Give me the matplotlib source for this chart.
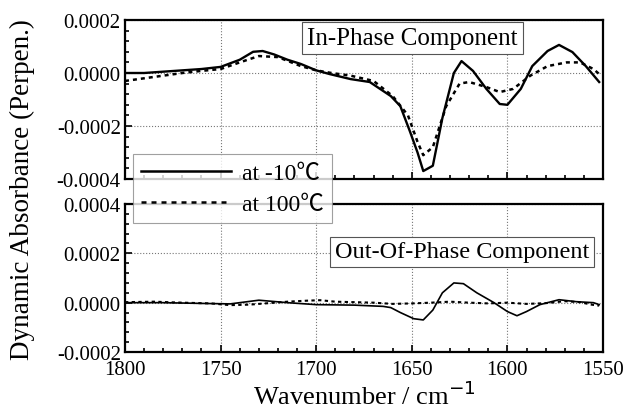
import matplotlib
matplotlib.use("Agg")
import matplotlib.pyplot as plt
from matplotlib.ticker import MultipleLocator, FormatStrFormatter
from matplotlib.lines import Line2D

plt.rcParams['font.family'] = ['Liberation Serif', 'Noto Sans CJK JP', 'DejaVu Sans']

# In-phase, -10 C (solid)
in_x_cold = [1800, 1790, 1780, 1770, 1760, 1750, 1740, 1733, 1728, 1722, 1715, 1708, 1700,
             1693, 1682, 1672, 1661, 1656, 1651, 1647, 1644, 1639, 1634, 1628, 1624, 1618,
             1611, 1604, 1600, 1593, 1587, 1579, 1573, 1566, 1559, 1552]
in_y_cold = [0.0, 0.0, 0.000005, 0.00001, 0.000015, 0.000023, 0.00005, 0.00008, 0.000083,
             0.00007, 0.00005, 0.000034, 0.00001, -0.000004, -0.000023, -0.000034,
             -0.000087, -0.000125, -0.00022, -0.0003, -0.00037, -0.00035, -0.00017, 0.0,
             0.000045, 0.000008, -0.00006, -0.000117, -0.00012, -0.00006, 0.000026,
             0.000083, 0.000106, 0.000079, 0.000026, -0.000034]

# In-phase, 100 C (dashed)
in_x_hot = [1800, 1790, 1780, 1770, 1760, 1750, 1740, 1730, 1720, 1708, 1700, 1692, 1682,
            1670, 1660, 1652, 1647, 1644, 1639, 1632, 1625, 1620, 1611, 1604, 1597, 1588,
            1579, 1569, 1562, 1555, 1552]
in_y_hot = [-0.00003, -0.00002, -0.00001, 0.0, 0.000008, 0.000015, 0.00004, 0.000064,
            0.00006, 0.000026, 0.00001, 0.0, -0.00001, -0.00003, -0.000087, -0.00016,
            -0.00026, -0.00031, -0.00028, -0.000125, -0.00004, -0.000034, -0.000053,
            -0.000072, -0.00006, -0.00001, 0.000026, 0.00004, 0.00004, 0.000015, -0.000004]

# Out-of-phase, -10 C (solid)
out_x_cold = [1800, 1780, 1760, 1745, 1730, 1715, 1700, 1680, 1665, 1661, 1656, 1649, 1644,
              1639, 1634, 1628, 1623, 1616, 1607, 1600, 1595, 1590, 1583, 1573, 1564, 1555,
              1552]
out_y_cold = [0.0, 0.0, -0.000003, -0.000005, 0.00001, 0.0, -0.000008, -0.00001, -0.000015,
              -0.00002, -0.00004, -0.000065, -0.00007, -0.00003, 0.00004, 0.00008, 0.000077,
              0.00004, 0.0, -0.000036, -0.000053, -0.000036, -0.000008, 0.000012, 0.000004,
              0.0, -0.000008]

# Out-of-phase, 100 C (dashed)
out_x_hot = [1800, 1785, 1770, 1755, 1745, 1735, 1725, 1715, 1705, 1698, 1690, 1680, 1670,
             1660, 1650, 1640, 1630, 1620, 1610, 1600, 1590, 1580, 1570, 1562, 1556, 1552]
out_y_hot = [0.000002, 0.000004, 0.0, -0.000003, -0.00001, -0.000008, -0.000002, 0.000004,
             0.000008, 0.00001, 0.000004, 0.000002, 0.0, -0.000005, -0.000003, 0.0,
             0.000004, 0.0, -0.000003, 0.0, -0.000005, -0.000002, 0.000006, 0.000002,
             -0.000008, -0.000012]

fig = plt.figure(figsize=(6.26, 4.10), dpi=100)
W, H = 626, 410
ax1 = fig.add_axes([125 / W, 1 - 180 / H, 478 / W, 159 / H])
ax2 = fig.add_axes([125 / W, 1 - 353 / H, 478 / W, 148 / H])

ax1.plot(in_x_cold, in_y_cold, color='black', lw=1.7, ls='-')
ax1.plot(in_x_hot, in_y_hot, color='black', lw=1.8, ls=(0, (1.6, 1.6)))
ax2.plot(out_x_cold, out_y_cold, color='black', lw=1.2, ls='-')
ax2.plot(out_x_hot, out_y_hot, color='black', lw=1.5, ls=(0, (1.6, 1.6)))

for ax, lo, hi in [(ax1, -0.0004, 0.0002), (ax2, -0.0002, 0.0004)]:
    ax.set_xlim(1800, 1550)
    ax.set_ylim(lo, hi)
    ax.xaxis.set_major_locator(MultipleLocator(50))
    ax.xaxis.set_minor_locator(MultipleLocator(10))
    ax.yaxis.set_major_locator(MultipleLocator(0.0002))
    ax.yaxis.set_minor_locator(MultipleLocator(0.00004))
    ax.yaxis.set_major_formatter(FormatStrFormatter('%.4f'))
    ax.tick_params(which='both', direction='in', top=False, right=False, labelsize=15)
    ax.tick_params(which='major', length=5, width=1.2, pad=3)
    ax.tick_params(which='minor', length=3, width=1.2)
    ax.grid(True, which='major', ls=':', color='#777777', lw=0.8)
    for s in ax.spines.values():
        s.set_linewidth(1.6)

ax1.tick_params(axis='x', labelbottom=False)
ax2.tick_params(axis='x', pad=6)
fig.text(364 / W, 1 - 396 / H, 'Wavenumber / cm$^{-1}$', fontsize=19,
         ha='center', va='center')
fig.text(22 / W, 1 - 190 / H, 'Dynamic Absorbance (Perpen.)', rotation=90,
         fontsize=19.5, ha='center', va='center')

ax1.text(0.381, 0.884, 'In-Phase Component', transform=ax1.transAxes, fontsize=18,
         ha='left', va='center',
         bbox=dict(facecolor='white', edgecolor='#555555', lw=0.8, boxstyle='square,pad=0.2'))
ax2.text(0.439, 0.676, 'Out-Of-Phase Component', transform=ax2.transAxes, fontsize=17.5,
         ha='left', va='center',
         bbox=dict(facecolor='white', edgecolor='#555555', lw=0.8, boxstyle='square,pad=0.2'))

handles = [Line2D([], [], color='black', lw=1.8, ls='-'),
           Line2D([], [], color='black', lw=1.8, ls=(0, (2, 2)))]
leg = fig.legend(handles, ['at -10℃', 'at 100℃'], loc='upper left',
                 bbox_to_anchor=(133 / W, 1 - 155 / H), fontsize=17, frameon=True,
                 fancybox=False, edgecolor='#888888', handlelength=3.8,
                 borderpad=0.35, labelspacing=0.4, handletextpad=0.45, borderaxespad=0)
leg.get_frame().set_linewidth(0.8)
leg.set_zorder(10)

fig.savefig('out.png', dpi=100)
